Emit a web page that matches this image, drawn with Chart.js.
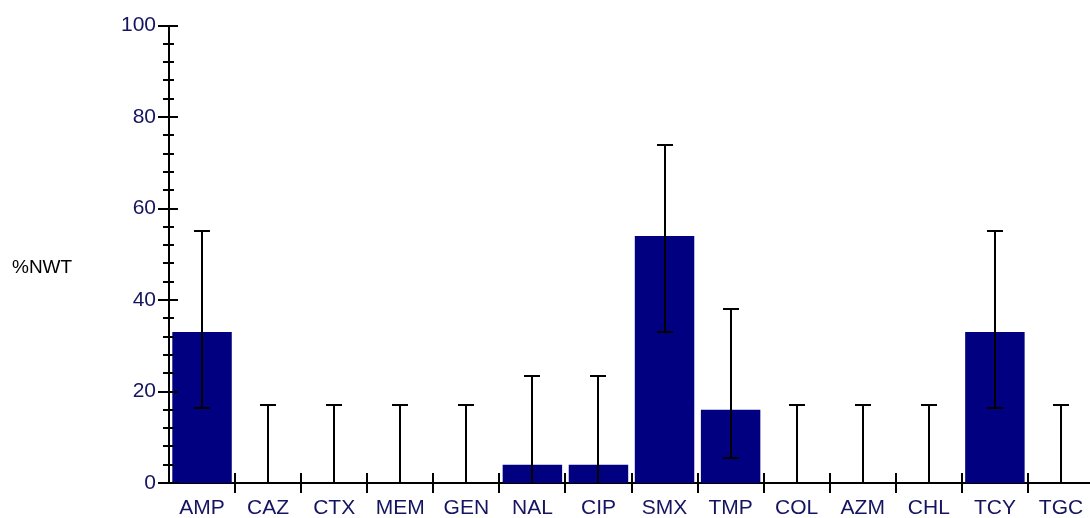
<!DOCTYPE html>
<html>
<head>
<meta charset="utf-8">
<script src="https://cdn.jsdelivr.net/npm/chart.js@4.4.1/dist/chart.umd.min.js"></script>
<style>
  html, body { margin: 0; padding: 0; background: #fff; overflow: hidden; }
  #wrap { position: relative; width: 1100px; height: 518px; }
</style>
</head>
<body>
<div id="wrap"><canvas id="chart"></canvas></div>
<script>
// data
var categories = ['AMP', 'CAZ', 'CTX', 'MEM', 'GEN', 'NAL', 'CIP', 'SMX', 'TMP', 'COL', 'AZM', 'CHL', 'TCY', 'TGC'];
var values     = [33, 0, 0, 0, 0, 4, 4, 54, 16, 0, 0, 0, 33, 0];
var lowerCI    = [16.3, 0, 0, 0, 0, 0, 0, 33, 5.5, 0, 0, 0, 16.3, 0];
var upperCI    = [55, 17, 17, 17, 17, 23.3, 23.3, 74, 38, 17, 17, 17, 55, 17];
var yTicks     = [0, 20, 40, 60, 80, 100];
var yTitle     = '%NWT';

var labelColor = '#141460';
var fontFamily = '"Liberation Sans", Arial, sans-serif';

function $each(arr, fn) { for (var i = 0; i < arr.length; i++) fn(i); }

// error bars, axis tick marks and the horizontal axis title
var extrasPlugin = {
    id: 'extras',
    afterDatasetsDraw: function (chart) {
        var ctx = chart.ctx;
        var x = chart.scales.x, y = chart.scales.y;
        var area = chart.chartArea;
        ctx.save();
        ctx.strokeStyle = '#000';
        ctx.lineWidth = 2;
        // error bars
        $each(categories, function (i) {
            var cx = Math.round(x.getPixelForValue(i));
            var yLo = y.getPixelForValue(lowerCI[i]);
            var yHi = Math.round(y.getPixelForValue(upperCI[i]));
            ctx.beginPath();
            ctx.moveTo(cx, yLo);
            ctx.lineTo(cx, yHi);
            ctx.moveTo(cx - 8, yHi);
            ctx.lineTo(cx + 8, yHi);
            if (lowerCI[i] > 0) {
                var yl = Math.round(yLo);
                ctx.moveTo(cx - 8, yl);
                ctx.lineTo(cx + 8, yl);
            }
            ctx.stroke();
        });
        // y minor / major ticks crossing the axis
        for (var v = 0; v <= 100; v += 4) {
            var py = Math.round(y.getPixelForValue(v));
            var major = yTicks.indexOf(v) >= 0;
            ctx.beginPath();
            ctx.moveTo(area.left - (major ? 11 : 6), py);
            ctx.lineTo(area.left + (major ? 9 : 5), py);
            ctx.stroke();
        }
        // x ticks at category boundaries
        for (var k = 1; k < categories.length; k++) {
            var px = Math.round((x.getPixelForValue(k - 1) + x.getPixelForValue(k)) / 2);
            ctx.beginPath();
            ctx.moveTo(px, area.bottom - 10);
            ctx.lineTo(px, area.bottom + 10);
            ctx.stroke();
        }
        // axis title, drawn horizontally left of the axis
        ctx.fillStyle = '#000';
        ctx.font = '19px ' + fontFamily;
        ctx.textBaseline = 'middle';
        ctx.textAlign = 'left';
        ctx.fillText(yTitle, 12, (area.top + area.bottom) / 2 + 13);
        ctx.restore();
    }
};

var ctx = document.getElementById('chart').getContext('2d');
var chart = new Chart(ctx, {
    type: 'bar',
    data: {
        labels: categories,
        datasets: [{
            data: values,
            backgroundColor: '#000080',
            borderWidth: 0,
            barPercentage: 0.9,
            categoryPercentage: 1.0
        }]
    },
    options: {
        responsive: true,
        maintainAspectRatio: false,
        animation: false,
        layout: { padding: { top: 23, right: 6, left: 0, bottom: 0 } },
        plugins: {
            legend: { display: false },
            tooltip: { enabled: false }
        },
        scales: {
            x: {
                grid: { display: false, drawTicks: false },
                border: { display: true, color: '#000', width: 2 },
                ticks: {
                    color: labelColor,
                    padding: 13,
                    font: { family: fontFamily, size: 21 },
                    maxRotation: 0,
                    autoSkip: false
                },
                afterFit: function (s) { s.height = 35; }
            },
            y: {
                min: 0,
                max: 100,
                grid: { display: false, drawTicks: false },
                border: { display: true, color: '#000', width: 2 },
                afterBuildTicks: function (s) {
                    s.ticks = yTicks.map(function (v) { return { value: v }; });
                },
                ticks: {
                    color: labelColor,
                    padding: 13,
                    font: { family: fontFamily, size: 21 }
                },
                afterFit: function (s) { s.width = 169; }
            }
        }
    },
    plugins: [extrasPlugin]
});
</script>
</body>
</html>
